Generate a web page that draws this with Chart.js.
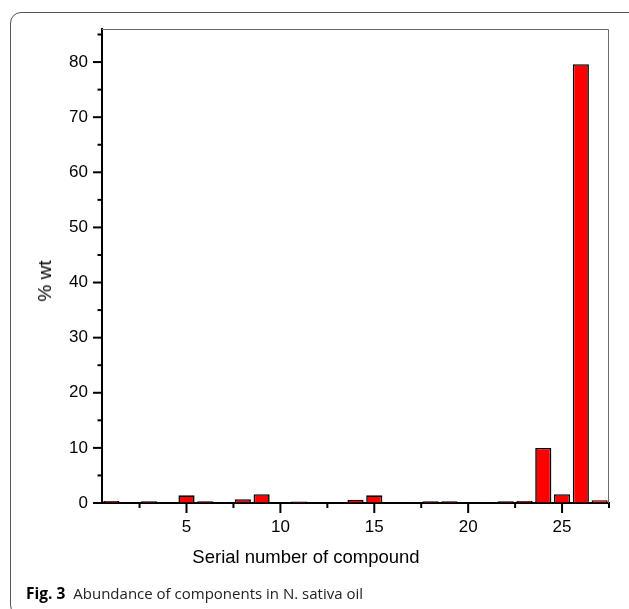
<!DOCTYPE html>
<html><head><meta charset="utf-8">
<script src="https://cdn.jsdelivr.net/npm/chart.js@4.4.0/dist/chart.umd.min.js"></script>
<style>
html,body{margin:0;padding:0;background:#fff;overflow:hidden;width:629px;height:609px;}
#wrap{position:relative;width:629px;height:609px;overflow:hidden;}
#frame{position:absolute;left:10px;top:12px;width:720px;height:602px;border:1.3px solid #555;border-radius:11px;}
#cv{position:absolute;left:0;top:0;}
#xtitle{position:absolute;left:0;width:612px;top:546px;text-align:center;font-family:"Liberation Sans",Arial,sans-serif;font-size:18.5px;color:#000;white-space:nowrap;}
#ytitle{position:absolute;left:45px;top:281px;transform:translate(-50%,-50%) rotate(-90deg);font-family:"Liberation Sans",Arial,sans-serif;font-size:19px;color:#000;white-space:nowrap;}
#caption{position:absolute;left:26px;top:582px;font-family:"Open Sans",sans-serif;font-size:15px;color:#222;white-space:nowrap;}
#caption b{font-weight:700;color:#000;margin-right:8px;font-size:15.5px;}
</style>
</head><body>
<div id="wrap">
<div id="frame"></div>
<canvas id="cv" width="629" height="609"></canvas>
<div id="xtitle">Serial number of compound</div>
<div id="ytitle">% wt</div>
<div id="caption"><b>Fig. 3</b>Abundance of components in N. sativa oil</div>
</div>
<script>
const compounds = [1,2,3,4,5,6,7,8,9,10,11,12,13,14,15,16,17,18,19,20,21,22,23,24,25,26,27];
const wtPercent = [0.35,0,0.3,0,1.4,0.3,0,0.7,1.6,0,0.25,0,0.1,0.6,1.4,0.1,0.15,0.3,0.3,0.05,0.15,0.3,0.35,10.0,1.6,79.6,0.5];
const xMajorTicks = [5,10,15,20,25];
const xMinorTicks = [2.5,7.5,12.5,17.5,22.5,27.5];
const yMajorTicks = [0,10,20,30,40,50,60,70,80];
const yMinorTicks = [5,15,25,35,45,55,65,75,85];

const tickPlugin = {
  id:'customTicks',
  afterDraw(chart){
    const {ctx, chartArea:a, scales:{x,y}} = chart;
    ctx.save();
    ctx.strokeStyle='#6a6a6a'; ctx.lineWidth=1;
    ctx.beginPath();
    ctx.moveTo(a.left, a.top+0.5); ctx.lineTo(a.right-0.5, a.top+0.5); ctx.lineTo(a.right-0.5, a.bottom);
    ctx.stroke();
    ctx.strokeStyle='#000'; ctx.lineWidth=2;
    const seg=(x1,y1,x2,y2)=>{ctx.beginPath();ctx.moveTo(x1,y1);ctx.lineTo(x2,y2);ctx.stroke();};
    xMajorTicks.forEach(v=>{const p=x.getPixelForValue(v); seg(p,a.bottom,p,a.bottom+10);});
    xMinorTicks.forEach(v=>{const p=x.getPixelForValue(v); seg(p,a.bottom,p,a.bottom+5);});
    yMajorTicks.forEach(v=>{const p=y.getPixelForValue(v); seg(a.left,p,a.left-9,p);});
    yMinorTicks.forEach(v=>{const p=y.getPixelForValue(v); seg(a.left,p,a.left-4.5,p);});
    ctx.restore();
  }
};

new Chart(document.getElementById('cv'), {
  type:'bar',
  data:{
    datasets:[{
      data: compounds.map((c,i)=>({x:c,y:wtPercent[i]})),
      backgroundColor:'#ff0000',
      borderColor:'#000',
      borderWidth:1.6,
      barPercentage:0.86,
      categoryPercentage:1.0
    }]
  },
  options:{
    responsive:false,
    animation:false,
    events:[],
    layout:{padding:{top:29,right:20,left:0,bottom:0}},
    plugins:{legend:{display:false},tooltip:{enabled:false}},
    scales:{
      x:{
        type:'linear', min:0.5, max:27.5, offset:false,
        afterFit(s){s.height=106;},
        afterBuildTicks(s){s.ticks=xMajorTicks.map(v=>({value:v}));},
        grid:{display:true,drawOnChartArea:false,drawTicks:true,tickLength:10,color:'transparent'},
        border:{display:true,color:'#000',width:2},
        ticks:{padding:4,color:'#000',font:{family:'"Liberation Sans", Arial, sans-serif',size:17},maxRotation:0,autoSkip:false}
      },
      y:{
        type:'linear', min:0, max:86,
        afterFit(s){s.width=102;},
        afterBuildTicks(s){s.ticks=yMajorTicks.map(v=>({value:v}));},
        grid:{display:true,drawOnChartArea:false,drawTicks:true,tickLength:9,color:'transparent'},
        border:{display:true,color:'#000',width:2},
        ticks:{padding:5,color:'#000',font:{family:'"Liberation Sans", Arial, sans-serif',size:17},autoSkip:false}
      }
    }
  },
  plugins:[tickPlugin]
});
</script>
</body></html>
